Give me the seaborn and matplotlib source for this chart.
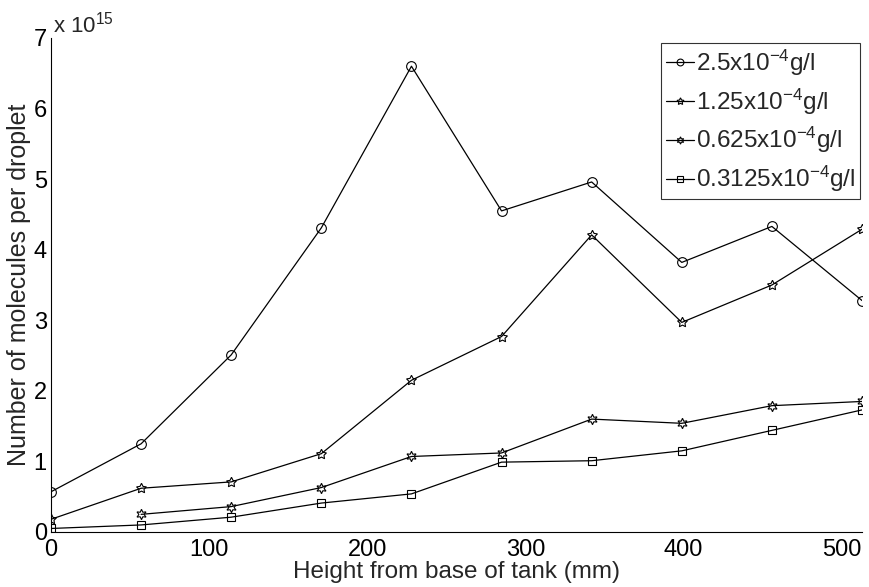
import matplotlib
matplotlib.use("Agg")
import matplotlib.pyplot as plt
import seaborn as sns
import pandas as pd

heights = [0, 57, 114, 171, 228, 285, 342, 399, 456, 513]
c_250 = [0.57, 1.25, 2.51, 4.31, 6.60, 4.55, 4.96, 3.82, 4.33, 3.28]
c_125 = [0.18, 0.62, 0.71, 1.11, 2.15, 2.77, 4.21, 2.97, 3.50, 4.29]
heights_0625 = [57, 114, 171, 228, 285, 342, 399, 456, 513]
c_0625 = [0.25, 0.36, 0.63, 1.07, 1.12, 1.60, 1.54, 1.79, 1.85]
c_03125 = [0.05, 0.10, 0.21, 0.41, 0.54, 0.99, 1.01, 1.15, 1.44, 1.73]
labels = ["2.5x10$^{-4}$g/l", "1.25x10$^{-4}$g/l", "0.625x10$^{-4}$g/l", "0.3125x10$^{-4}$g/l"]

sns.set_style("white")
plt.rcParams["font.family"] = ["Liberation Sans", "DejaVu Sans"]
plt.rcParams["mathtext.fontset"] = "custom"
plt.rcParams["mathtext.rm"] = "Liberation Sans"
plt.rcParams["mathtext.it"] = "Liberation Sans"
plt.rcParams["mathtext.sf"] = "Liberation Sans"

fig = plt.figure(figsize=(8.7, 5.87), dpi=100)
ax = fig.add_axes([51/870, 55/587, (862-51)/870, (532-38)/587])

series = [
    (heights, c_250, "o", 7),
    (heights, c_125, (5, 1, 0), 7.5),
    (heights_0625, c_0625, (6, 1, 0), 7.5),
    (heights, c_03125, "s", 6),
]
for (xs, ys, mk, ms), lab in zip(series, labels):
    df = pd.DataFrame({"x": xs, "y": ys})
    sns.lineplot(data=df, x="x", y="y", ax=ax, color="k", lw=0.9,
                 marker=mk, markersize=ms, markerfacecolor="none",
                 markeredgecolor="k", markeredgewidth=0.8, label=lab)

ax.set_xlim(0, 513)
ax.set_ylim(0, 7)
ax.set_xticks([0, 100, 200, 300, 400, 500])
ax.set_yticks(range(0, 8))
ax.tick_params(axis="x", direction="in", length=5, width=0.8, labelsize=17, colors="k", pad=5)
ax.tick_params(axis="y", direction="in", length=5, width=0.8, labelsize=17, colors="k", pad=3)
for s in ["top", "right"]:
    ax.spines[s].set_visible(False)
for s in ["left", "bottom"]:
    ax.spines[s].set_color("k")
    ax.spines[s].set_linewidth(0.8)

ax.set_xlabel("Height from base of tank (mm)", fontsize=17.5, labelpad=0)
ax.set_ylabel("Number of molecules per droplet", fontsize=18, labelpad=2)
ax.text(0.003, 1.0, "x 10$^{15}$", transform=ax.transAxes, fontsize=16,
        ha="left", va="bottom")

leg = ax.legend(loc="upper right", bbox_to_anchor=(0.9975, 0.99), fontsize=17.5,
                frameon=True, fancybox=False, edgecolor="k",
                handlelength=1.15, handletextpad=0.08, markerscale=0.7,
                borderaxespad=0.0, labelspacing=0.35, borderpad=0.2)
leg.get_frame().set_linewidth(0.8)

fig.savefig("out.png", dpi=100)
